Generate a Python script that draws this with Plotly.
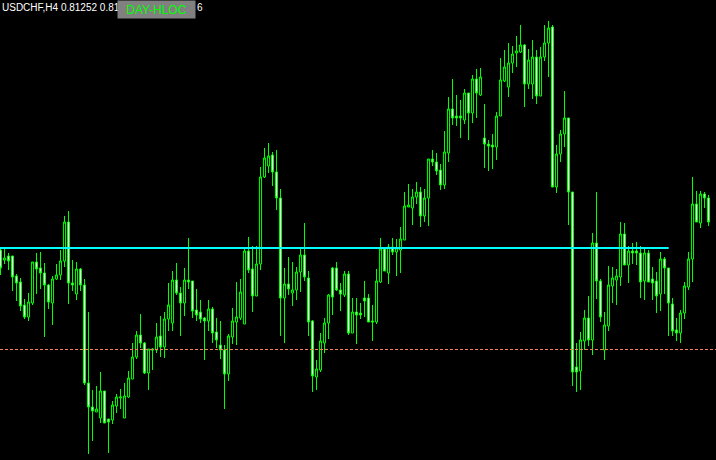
import plotly.graph_objects as go

# ---- data (USDCHF, H4) ----
open_ = [
    0.8074, 0.8064, 0.8068, 0.8068, 0.8048, 0.8042, 0.8019, 0.8007, 0.8021, 0.8062,
    0.8056, 0.8051, 0.8039, 0.8021, 0.8045, 0.8049, 0.8063, 0.8102, 0.8041, 0.8030,
    0.8055, 0.8039, 0.7941, 0.7917, 0.7912, 0.7906, 0.7933, 0.7905, 0.7904, 0.7918,
    0.7926, 0.7906, 0.7927, 0.7945, 0.7967, 0.7989, 0.7981, 0.7951, 0.7975, 0.7974,
    0.7988, 0.7977, 0.8005, 0.8001, 0.8044, 0.8031, 0.8021, 0.8044, 0.8043, 0.8014,
    0.8012, 0.8006, 0.8003, 0.8015, 0.7992, 0.7979, 0.7974, 0.7950, 0.7987, 0.8002,
    0.8006, 0.8000, 0.8073, 0.8055, 0.8028, 0.8060, 0.8147, 0.8158, 0.8169, 0.8152,
    0.8126, 0.8026, 0.8040, 0.8031, 0.8034, 0.8052, 0.8069, 0.8046, 0.8003, 0.7947,
    0.7954, 0.7981, 0.8001, 0.8056, 0.8056, 0.8034, 0.8029, 0.8050, 0.7991, 0.8012,
    0.8011, 0.8026, 0.8026, 0.8003, 0.8002, 0.8042, 0.8075, 0.8051, 0.8077, 0.8072,
    0.8074, 0.8084, 0.8117, 0.8116, 0.8127, 0.8132, 0.8108, 0.8126, 0.8165, 0.8162,
    0.8154, 0.8139, 0.8171, 0.8215, 0.8208, 0.8208, 0.8204, 0.8231, 0.8211, 0.8245,
    0.8229, 0.8186, 0.8180, 0.8179, 0.8177, 0.8208, 0.8243, 0.8237, 0.8261, 0.8271,
    0.8272, 0.8279, 0.8240, 0.8240, 0.8267, 0.8228, 0.8267, 0.8281, 0.8297, 0.8137,
    0.8170, 0.8190, 0.8206, 0.8132, 0.7957, 0.7953, 0.7983, 0.8006, 0.7984, 0.8081,
    0.8043, 0.7974, 0.7998, 0.8038, 0.8044, 0.8047, 0.8090, 0.8059, 0.8073, 0.8073,
    0.8071, 0.8043, 0.8071, 0.8045, 0.8043, 0.8030, 0.8065, 0.8056, 0.8020, 0.7994,
    0.7991, 0.8011, 0.8037, 0.8065, 0.8120, 0.8101, 0.8130, 0.8126,
]
high = [
    0.8077, 0.8076, 0.8071, 0.8068, 0.8050, 0.8046, 0.8025, 0.8031, 0.8062, 0.8071,
    0.8072, 0.8061, 0.8040, 0.8048, 0.8060, 0.8074, 0.8108, 0.8113, 0.8064, 0.8062,
    0.8056, 0.8045, 0.8012, 0.7934, 0.7938, 0.7952, 0.7933, 0.7905, 0.7923, 0.7930,
    0.7935, 0.7941, 0.7953, 0.7981, 0.7993, 0.8010, 0.7982, 0.7975, 0.7976, 0.8001,
    0.8008, 0.8012, 0.8041, 0.8053, 0.8061, 0.8037, 0.8056, 0.8086, 0.8043, 0.8035,
    0.8024, 0.8007, 0.8024, 0.8017, 0.8006, 0.8003, 0.7979, 0.7990, 0.8016, 0.8042,
    0.8045, 0.8076, 0.8087, 0.8078, 0.8078, 0.8157, 0.8176, 0.8181, 0.8172, 0.8174,
    0.8135, 0.8056, 0.8067, 0.8062, 0.8057, 0.8076, 0.8101, 0.8053, 0.8004, 0.7964,
    0.7991, 0.8006, 0.8030, 0.8057, 0.8062, 0.8041, 0.8053, 0.8053, 0.8026, 0.8026,
    0.8021, 0.8043, 0.8030, 0.8019, 0.8055, 0.8086, 0.8076, 0.8080, 0.8086, 0.8085,
    0.8097, 0.8132, 0.8140, 0.8135, 0.8142, 0.8137, 0.8135, 0.8165, 0.8174, 0.8171,
    0.8160, 0.8193, 0.8227, 0.8245, 0.8229, 0.8224, 0.8235, 0.8231, 0.8249, 0.8255,
    0.8256, 0.8220, 0.8184, 0.8190, 0.8212, 0.8266, 0.8274, 0.8281, 0.8278, 0.8288,
    0.8299, 0.8280, 0.8275, 0.8284, 0.8274, 0.8277, 0.8299, 0.8303, 0.8299, 0.8179,
    0.8194, 0.8233, 0.8206, 0.8132, 0.7981, 0.7992, 0.8014, 0.8028, 0.8091, 0.8132,
    0.8045, 0.8012, 0.8058, 0.8057, 0.8055, 0.8102, 0.8101, 0.8078, 0.8081, 0.8082,
    0.8078, 0.8076, 0.8074, 0.8057, 0.8052, 0.8072, 0.8067, 0.8056, 0.8026, 0.8006,
    0.8014, 0.8042, 0.8072, 0.8147, 0.8133, 0.8133, 0.8132, 0.8129,
]
low = [
    0.8049, 0.8060, 0.8054, 0.8033, 0.8023, 0.8013, 0.8005, 0.8003, 0.8019, 0.8030,
    0.8035, 0.7987, 0.8015, 0.7999, 0.8044, 0.8044, 0.8057, 0.8020, 0.8033, 0.8024,
    0.8033, 0.7939, 0.7870, 0.7883, 0.7912, 0.7901, 0.7901, 0.7871, 0.7900, 0.7911,
    0.7915, 0.7906, 0.7926, 0.7945, 0.7965, 0.7976, 0.7950, 0.7934, 0.7954, 0.7971,
    0.7967, 0.7966, 0.7993, 0.7993, 0.8029, 0.7988, 0.8008, 0.8035, 0.8006, 0.8003,
    0.8001, 0.7964, 0.7993, 0.7981, 0.7976, 0.7965, 0.7915, 0.7943, 0.7980, 0.7979,
    0.8004, 0.8000, 0.8051, 0.8012, 0.8028, 0.8054, 0.8146, 0.8151, 0.8138, 0.8114,
    0.7988, 0.7981, 0.8029, 0.8018, 0.8024, 0.8032, 0.8043, 0.7988, 0.7932, 0.7934,
    0.7952, 0.7971, 0.7985, 0.8009, 0.8033, 0.8013, 0.8027, 0.7989, 0.7991, 0.7980,
    0.8005, 0.8007, 0.8002, 0.7983, 0.8000, 0.8041, 0.8053, 0.8040, 0.8069, 0.8048,
    0.8051, 0.8084, 0.8117, 0.8099, 0.8120, 0.8097, 0.8102, 0.8098, 0.8158, 0.8149,
    0.8134, 0.8135, 0.8162, 0.8199, 0.8198, 0.8186, 0.8200, 0.8184, 0.8201, 0.8206,
    0.8228, 0.8156, 0.8153, 0.8155, 0.8164, 0.8208, 0.8242, 0.8227, 0.8251, 0.8257,
    0.8271, 0.8217, 0.8235, 0.8225, 0.8220, 0.8228, 0.8263, 0.8247, 0.8137, 0.8131,
    0.8162, 0.8177, 0.8099, 0.7938, 0.7932, 0.7934, 0.7974, 0.7978, 0.7969, 0.8025,
    0.8002, 0.7964, 0.7993, 0.8021, 0.8019, 0.8038, 0.8059, 0.8041, 0.8060, 0.8059,
    0.8026, 0.8024, 0.8042, 0.8024, 0.8011, 0.8013, 0.8030, 0.7988, 0.7988, 0.7983,
    0.7981, 0.8005, 0.8034, 0.8042, 0.8102, 0.8096, 0.8116, 0.8098,
]
close = [
    0.8056, 0.8066, 0.8063, 0.8047, 0.8041, 0.8018, 0.8007, 0.8022, 0.8062, 0.8055,
    0.8051, 0.8039, 0.8022, 0.8045, 0.8049, 0.8063, 0.8102, 0.8041, 0.8039, 0.8055,
    0.8039, 0.7941, 0.7917, 0.7913, 0.7915, 0.7933, 0.7901, 0.7902, 0.7919, 0.7927,
    0.7927, 0.7928, 0.7946, 0.7967, 0.7989, 0.7981, 0.7951, 0.7975, 0.7974, 0.7987,
    0.7977, 0.8005, 0.8019, 0.8044, 0.8031, 0.8021, 0.8044, 0.8042, 0.8013, 0.8009,
    0.8005, 0.8003, 0.8015, 0.7991, 0.7984, 0.7974, 0.7950, 0.7988, 0.8003, 0.8007,
    0.8032, 0.8073, 0.8054, 0.8028, 0.8060, 0.8147, 0.8166, 0.8168, 0.8152, 0.8126,
    0.8026, 0.8040, 0.8035, 0.8034, 0.8052, 0.8069, 0.8047, 0.8002, 0.7948, 0.7955,
    0.7983, 0.8001, 0.8029, 0.8027, 0.8034, 0.8030, 0.8050, 0.7991, 0.8012, 0.8009,
    0.8009, 0.8023, 0.8002, 0.8002, 0.8043, 0.8075, 0.8053, 0.8077, 0.8072, 0.8076,
    0.8085, 0.8118, 0.8119, 0.8127, 0.8132, 0.8108, 0.8126, 0.8165, 0.8162, 0.8153,
    0.8139, 0.8172, 0.8215, 0.8206, 0.8206, 0.8206, 0.8231, 0.8211, 0.8245, 0.8231,
    0.8247, 0.8180, 0.8178, 0.8177, 0.8208, 0.8244, 0.8257, 0.8261, 0.8270, 0.8273,
    0.8279, 0.8240, 0.8264, 0.8267, 0.8228, 0.8267, 0.8281, 0.8296, 0.8137, 0.8170,
    0.8190, 0.8206, 0.8132, 0.7952, 0.7952, 0.7984, 0.8006, 0.7984, 0.8081, 0.8043,
    0.8007, 0.7999, 0.8039, 0.8046, 0.8048, 0.8090, 0.8059, 0.8073, 0.8071, 0.8071,
    0.8042, 0.8071, 0.8042, 0.8041, 0.8028, 0.8065, 0.8056, 0.8021, 0.7993, 0.7991,
    0.8011, 0.8038, 0.8065, 0.8120, 0.8102, 0.8130, 0.8126, 0.8102,
]
bars = list(range(len(close)))

cyan_level = 0.8076      # horizontal level (cyan)
cyan_end_bar = 167
orange_level = 0.79745   # dashed level (salmon)

header_text = "USDCHF,H4 0.81252 0.81"
header_tail = "6"
label_text = "DAY-HLOC"

# ---- figure ----
fig = go.Figure()

fig.add_trace(go.Candlestick(
    x=bars, open=open_, high=high, low=low, close=close,
    increasing=dict(line=dict(color="#00FF00", width=1), fillcolor="#000000"),
    decreasing=dict(line=dict(color="#00FF00", width=1), fillcolor="#FFFFFF"),
    whiskerwidth=0, hoverinfo="skip", showlegend=False,
))

x_min, x_max = -0.125, 178.875

fig.add_trace(go.Scatter(
    x=[x_min, cyan_end_bar + 0.05], y=[cyan_level, cyan_level],
    mode="lines", line=dict(color="#00FFFF", width=2),
    hoverinfo="skip", showlegend=False,
))
fig.add_trace(go.Scatter(
    x=[x_min, x_max], y=[orange_level, orange_level],
    mode="lines", line=dict(color="#FA8060", width=1, dash="3px,2px"),
    hoverinfo="skip", showlegend=False,
))

font_family = "Liberation Sans, Arial, sans-serif"
fig.update_layout(
    width=716, height=460,
    margin=dict(l=0, r=0, t=0, b=0),
    paper_bgcolor="#000000", plot_bgcolor="#000000",
    xaxis=dict(range=[x_min, x_max], visible=False, rangeslider=dict(visible=False),
               showgrid=False, zeroline=False, fixedrange=True),
    yaxis=dict(range=[0.7864, 0.8324], visible=False, showgrid=False,
               zeroline=False, fixedrange=True),
    boxgap=0.25,
    showlegend=False,
    annotations=[
        dict(text=header_text, xref="paper", yref="paper", x=1/716, y=1 - 1/460,
             xanchor="left", yanchor="top", showarrow=False, borderpad=0,
             font=dict(family=font_family, size=10, color="#FFFFFF")),
        dict(text=header_tail, xref="paper", yref="paper", x=196/716, y=1 - 1/460,
             xanchor="left", yanchor="top", showarrow=False, borderpad=0,
             font=dict(family=font_family, size=10, color="#FFFFFF")),
        dict(text=label_text, xref="paper", yref="paper", x=117/716, y=1,
             xanchor="left", yanchor="top", showarrow=False, borderpad=0,
             width=77, height=17, bgcolor="#808080", align="center", valign="middle",
             font=dict(family=font_family, size=12, color="#00FF00")),
    ],
)

fig.write_html(
    "out.html",
    config={"displayModeBar": False},
    post_script="document.body.style.margin='0';document.body.style.overflow='hidden';",
)
